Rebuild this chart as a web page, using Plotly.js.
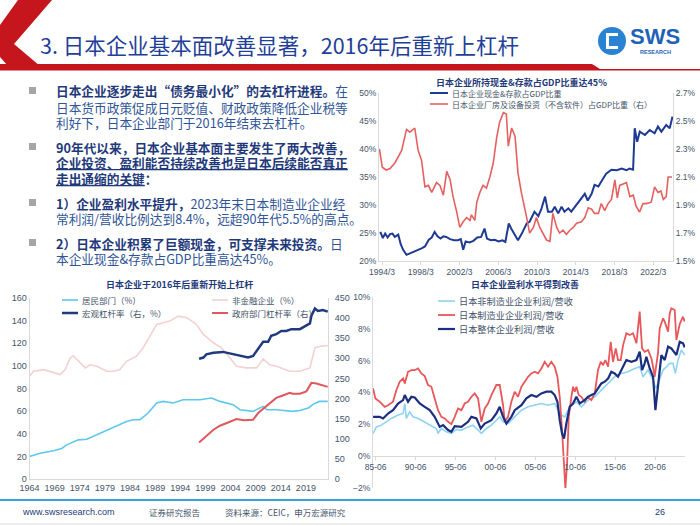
<!DOCTYPE html>
<html>
<head>
<meta charset="utf-8">
<script src="https://cdn.plot.ly/plotly-3.0.1.min.js"></script>
<style>
html, body { margin: 0; padding: 0; background: #fff; }
#plot { width: 700px; height: 526px; }
</style>
</head>
<body>
<div id="plot"></div>
<script>
// ---------- chart 1: cash & deposits / capex as % of GDP ----------
var cashYears = [1994.0,1994.25,1994.5,1994.75,1995.0,1995.25,1995.5,1995.85,1996.1,1996.35,1996.7,1997.0,1997.3,1997.6,1997.9,1998.3,1998.6,1999.0,1999.3,1999.6,1999.9,2000.2,2000.5,2000.8,2001.2,2001.6,2002.0,2002.3,2002.55,2002.8,2003.2,2003.6,2004.0,2004.4,2004.75,2005.0,2005.4,2005.8,2006.2,2006.6,2006.9,2007.25,2007.5,2007.9,2008.2,2008.6,2009.1,2009.4,2009.9,2010.3,2010.6,2011.0,2011.3,2011.7,2012.0,2012.35,2012.7,2013.0,2013.4,2013.7,2014.2,2014.75,2015.1,2015.4,2015.8,2016.1,2016.5,2016.8,2017.3,2017.85,2018.4,2018.9,2019.4,2019.7,2020.08,2020.25,2020.5,2020.77,2021.3,2021.8,2022.3,2022.65,2023.0,2023.5,2023.86,2024.15];
var cashVals = [25.2,24.1,24.9,24.2,24.8,24.9,24.3,24.7,23.0,22.0,21.1,21.3,21.6,21.7,22.0,22.3,22.6,23.8,24.2,25.2,24.4,24.0,24.4,24.3,23.9,23.7,23.7,23.9,22.0,23.5,23.3,23.6,24.2,24.3,25.8,24.0,23.7,23.8,23.5,23.7,23.4,26.7,25.8,24.5,23.7,24.9,26.7,27.0,28.8,28.0,29.2,31.5,28.8,28.8,29.7,28.5,29.7,28.8,29.4,28.8,30.0,31.2,32.0,30.8,32.0,33.6,33.3,34.2,35.6,36.3,36.2,36.5,36.2,36.5,36.3,43.7,41.3,43.1,42.5,43.4,42.8,44.0,43.1,44.3,43.7,45.8];
var capexYears = [1993.9,1994.2,1994.6,1995.0,1995.5,1996.2,1996.7,1997.05,1997.55,1997.9,1998.25,1998.6,1998.95,1999.3,1999.8,2000.15,2000.5,2000.85,2001.2,2001.5,2001.85,2002.2,2002.55,2002.9,2003.25,2003.4,2003.75,2003.95,2004.27,2004.6,2004.95,2005.3,2005.65,2006.0,2006.3,2006.7,2007.0,2007.2,2007.55,2007.9,2008.2,2008.55,2009.1,2009.4,2009.8,2010.1,2010.45,2010.8,2011.15,2011.5,2011.8,2012.2,2012.5,2012.85,2013.2,2013.55,2013.9,2014.25,2014.75,2015.1,2015.45,2015.8,2016.1,2016.5,2016.8,2017.15,2017.5,2017.85,2018.2,2018.45,2018.7,2019.05,2019.4,2019.75,2020.1,2020.4,2020.75,2021.1,2021.45,2021.95,2022.3,2022.65,2022.95,2023.2,2023.5,2023.7,2024.1];
var capexVals = [2.30,2.17,2.15,2.16,2.20,2.29,2.44,2.42,2.45,2.29,2.22,2.03,2.04,1.99,2.06,2.04,1.97,2.14,2.08,1.96,1.86,1.74,1.78,1.81,1.79,1.83,1.79,1.92,1.99,2.04,2.02,2.10,2.20,2.38,2.49,2.56,2.55,2.32,2.45,2.39,2.13,1.99,1.81,1.70,1.74,1.81,1.74,1.70,1.65,1.64,1.84,1.74,1.70,1.72,1.69,1.72,1.74,1.77,1.78,1.81,1.88,1.87,1.84,1.84,1.91,1.86,1.91,1.94,2.08,1.95,2.04,2.05,2.06,1.96,1.97,1.89,1.85,1.91,1.91,1.92,2.03,1.99,2.00,1.94,1.96,2.10,2.10];
var chart1Ticks = [1994.17,1998.17,2002.17,2006.17,2010.17,2014.17,2018.17,2022.17];
var chart1Labels = ['1994/3','1998/3','2002/3','2006/3','2010/3','2014/3','2018/3','2022/3'];
var chart1RightTicks = [1.5,1.7,1.9,2.1,2.3,2.5,2.7];
var chart1RightLabels = ['1.5%','1.7%','1.9%','2.1%','2.3%','2.5%','2.7%'];

// ---------- chart 2: leverage ratios ----------
var hhYears = [1964.0,1966.1,1968.8,1970.4,1971.4,1973.7,1975.4,1977.4,1979.4,1981.4,1983.3,1984.7,1986.0,1987.6,1989.3,1990.6,1992.6,1994.6,1997.9,2000.2,2001.9,2004.5,2005.9,2008.5,2010.5,2011.2,2013.1,2016.4,2017.8,2019.6,2020.4,2021.7,2023.35];
var hhVals = [19.8,22.8,24.9,27,30.2,34.6,35.2,39,43.5,47,50.9,52.4,52.4,58.3,67.2,68.6,67.2,70.1,70.1,71.6,68.6,65.7,61.2,59.8,64.2,61.2,61.2,59.8,60.5,63,66,68.6,68.6];
var nfcYears = [1964.0,1964.8,1966.8,1968.8,1970.1,1971.1,1972.1,1972.7,1974.1,1975.1,1976.1,1977.4,1979.4,1980.7,1982.0,1983.3,1985.3,1986.6,1987.6,1989.3,1990.6,1991.9,1993.6,1995.3,1997.2,1998.6,2000.6,2002.2,2003.9,2005.2,2007.2,2009.2,2010.5,2011.8,2013.1,2015.8,2017.8,2019.8,2020.8,2022.1,2023.35];
var nfcVals = [90.8,95.3,96.7,93.8,92.3,96.7,107,109,102.7,98.2,101,99.7,95.3,95.3,96.7,104,108.6,116,123.4,136.7,138.2,139.6,144,142.6,136.7,127.8,120.4,116,107,99.7,98.2,98.2,106.2,101,99.7,95.3,95.3,98.2,116,117.5,118];
var totYears = [1997.75,1998.6,1999.2,2000.6,2002.5,2003.9,2005.9,2007.5,2008.5,2009.2,2010.5,2011.5,2012.1,2013.1,2014.1,2015.1,2016.1,2017.8,2019.1,2019.8,2020.1,2020.8,2021.4,2022.4,2023.35];
var totVals = [299,302,310,314,316,312,307,302,306,318,341,341,356,360,368,368,372.5,372.5,382.5,386.7,406,424,418,420,416];
var govYears = [1997.75,1999.2,2000.6,2001.9,2003.9,2005.2,2006.6,2008.5,2009.5,2010.5,2011.8,2013.1,2014.4,2015.8,2016.4,2017.8,2019.1,2020.1,2021.1,2022.4,2023.35];
var govVals = [91,107.5,122.5,132.5,143,149,146,147.5,164,174,189,201.7,207.5,214,212,212,218,239,237.5,232.5,229];
var chart2Ticks = [1964,1969,1974,1979,1984,1989,1994,1999,2004,2009,2014,2019];

// ---------- chart 3: ordinary profit / sales ----------
var mfgYears = [1985.11,1985.40,1985.94,1986.57,1986.99,1987.61,1988.03,1988.45,1988.87,1989.08,1989.49,1989.91,1990.33,1990.75,1991.16,1991.58,1992.00,1992.42,1992.83,1993.25,1993.67,1994.09,1994.51,1994.92,1995.34,1995.76,1996.18,1996.59,1997.01,1997.43,1997.85,1998.27,1998.68,1999.10,1999.52,1999.94,2000.56,2000.98,2001.40,2001.61,2002.02,2002.44,2002.86,2003.28,2003.70,2004.11,2004.53,2004.95,2005.37,2005.78,2006.20,2006.62,2007.04,2007.45,2007.87,2008.21,2008.50,2008.79,2009.04,2009.21,2009.42,2009.63,2009.96,2010.17,2010.38,2010.59,2010.88,2011.21,2011.63,2011.97,2012.47,2012.89,2013.30,2013.64,2013.93,2014.22,2014.56,2014.89,2015.18,2015.52,2015.81,2016.14,2016.44,2016.85,2017.27,2017.69,2018.11,2018.52,2018.82,2019.15,2019.57,2019.99,2020.20,2020.40,2020.82,2021.03,2021.45,2021.66,2022.08,2022.28,2022.49,2022.91,2023.12,2023.54,2023.95,2024.16];
var mfgVals = [4.26,3.63,3.42,3.10,3.20,3.42,4.15,4.68,4.88,4.57,5.30,5.40,5.40,5.51,5.20,5.03,4.47,4.36,3.63,2.89,2.47,2.37,2.16,2.01,2.47,3.00,2.89,3.31,3.42,3.73,3.94,3.63,2.16,3.00,3.31,3.84,4.47,4.47,3.20,2.16,2.47,3.42,4.05,3.73,4.36,4.68,4.99,5.20,5.30,5.20,5.51,5.93,5.62,5.93,5.62,4.99,3.73,1.64,-0.46,-2.03,-0.46,2.47,3.73,4.36,4.05,4.36,3.84,3.73,3.42,3.73,3.52,3.94,5.41,5.93,5.72,6.04,5.62,7.19,5.93,6.77,6.04,6.04,6.98,7.72,7.61,7.72,7.09,9.08,6.77,6.56,6.67,6.14,5.60,4.99,6.50,8.03,8.66,8.45,7.82,8.97,9.29,9.18,7.30,8.30,8.76,8.45];
var allYears = [1985.11,1985.94,1986.36,1986.99,1987.61,1988.24,1988.87,1989.08,1989.49,1989.91,1990.33,1990.96,1991.58,1992.21,1992.83,1993.46,1993.88,1994.51,1994.92,1995.34,1996.18,1997.01,1997.43,1998.06,1998.60,1999.10,1999.94,2000.56,2000.98,2001.40,2001.82,2002.44,2002.86,2003.70,2004.32,2004.95,2005.58,2006.20,2006.83,2007.45,2007.87,2008.21,2008.50,2008.79,2009.04,2009.33,2009.75,2010.17,2010.59,2011.01,2011.63,2012.05,2012.47,2012.89,2013.30,2013.72,2014.14,2014.56,2014.97,2015.39,2015.81,2016.44,2016.85,2017.48,2018.11,2018.52,2018.82,2019.15,2019.36,2019.78,2020.20,2020.49,2020.82,2021.24,2021.66,2022.08,2022.49,2022.83,2023.12,2023.54,2023.95,2024.16];
var allVals = [2.47,2.47,2.37,2.68,2.89,3.31,3.52,3.84,3.42,3.73,3.69,3.31,3.10,2.89,2.47,1.84,1.95,1.64,1.53,1.89,1.84,2.16,2.47,2.37,1.74,2.05,2.26,2.68,3.10,2.47,2.05,2.47,2.89,3.20,3.63,3.84,3.73,3.94,4.05,4.05,3.84,3.42,2.26,1.43,1.11,2.05,3.10,3.31,3.73,3.31,3.52,3.73,3.84,3.94,4.26,4.57,4.68,4.88,5.30,5.20,4.99,5.62,6.04,5.93,6.04,6.56,5.41,5.83,6.25,5.51,4.99,2.89,4.57,6.35,6.04,6.88,6.77,6.56,6.35,7.19,7.09,6.83];
var nonMfgYears = [1985.11,1985.53,1986.15,1986.78,1987.40,1988.24,1988.87,1989.08,1989.28,1989.70,1990.12,1990.75,1991.58,1992.42,1993.04,1993.25,1993.67,1994.30,1994.92,1995.55,1996.18,1997.01,1997.64,1998.27,1998.68,1999.31,1999.94,2000.56,2000.98,2001.40,2002.02,2002.86,2003.70,2004.53,2005.37,2006.20,2007.04,2007.87,2008.29,2008.71,2009.13,2009.54,2009.96,2010.59,2011.21,2012.05,2012.89,2013.72,2014.56,2015.39,2016.23,2017.06,2017.90,2018.52,2018.94,2019.57,2020.20,2020.53,2020.82,2021.45,2021.87,2022.28,2022.70,2022.99,2023.33,2023.74,2024.16];
var nonMfgVals = [1.43,1.84,1.95,2.16,2.37,2.58,2.68,3.31,2.37,2.79,2.47,2.37,2.16,1.95,1.74,1.43,1.74,1.53,1.43,1.68,1.64,1.84,1.95,1.64,1.43,1.74,1.95,2.26,2.47,2.16,2.05,2.47,2.89,3.10,3.20,3.31,3.20,3.31,2.89,2.58,2.47,2.89,3.20,3.42,3.10,3.52,3.73,4.15,4.57,4.99,5.20,5.30,5.51,5.62,4.99,5.41,4.78,4.26,4.57,5.41,5.62,5.83,5.83,5.20,6.04,6.67,6.35];
var chart3Ticks = [1985.44,1990.44,1995.44,2000.44,2005.44,2010.44,2015.44,2020.44];
var chart3Labels = ['85-06','90-06','95-06','00-06','05-06','10-06','15-06','20-06'];

// ---------- helpers ----------
var W = 700, H = 526;
function fx(x) { return x / W; }
function fy(y) { return 1 - y / H; }
var CJK = 'Noto Sans CJK SC, sans-serif';
var TICK = { family: 'Liberation Sans, Arial, sans-serif', size: 8.5, color: '#44546A' };
var AX = '#D9D9D9';

var traces = [
  { x: capexYears, y: capexVals, xaxis: 'x', yaxis: 'y2', mode: 'lines', line: { color: '#E5615F', width: 1.6 } },
  { x: cashYears, y: cashVals, xaxis: 'x', yaxis: 'y', mode: 'lines', line: { color: '#1F3A93', width: 2 } },

  { x: nfcYears, y: nfcVals, xaxis: 'x2', yaxis: 'y3', mode: 'lines', line: { color: '#F3D1D1', width: 1.6 } },
  { x: hhYears, y: hhVals, xaxis: 'x2', yaxis: 'y3', mode: 'lines', line: { color: '#5CC8EC', width: 1.6 } },
  { x: govYears, y: govVals, xaxis: 'x2', yaxis: 'y4', mode: 'lines', line: { color: '#E0585D', width: 2 } },
  { x: totYears, y: totVals, xaxis: 'x2', yaxis: 'y4', mode: 'lines', line: { color: '#1F3A7F', width: 2.5 } },

  { x: nonMfgYears, y: nonMfgVals, xaxis: 'x3', yaxis: 'y5', mode: 'lines', line: { color: '#8ED3F2', width: 1.6 } },
  { x: mfgYears, y: mfgVals, xaxis: 'x3', yaxis: 'y5', mode: 'lines', line: { color: '#E8575A', width: 1.8 } },
  { x: allYears, y: allVals, xaxis: 'x3', yaxis: 'y5', mode: 'lines', line: { color: '#1C2F7E', width: 2.2 } }
];

var shapes = [];
var annotations = [];

function line(x0, y0, x1, y1, color, width) {
  shapes.push({ type: 'line', xref: 'paper', yref: 'paper', x0: fx(x0), y0: fy(y0), x1: fx(x1), y1: fy(y1), line: { color: color, width: width } });
}
function poly(pts, color) {
  var d = pts.map(function (p, i) { return (i ? 'L' : 'M') + fx(p[0]).toFixed(5) + ',' + fy(p[1]).toFixed(5); }).join(' ') + ' Z';
  shapes.push({ type: 'path', xref: 'paper', yref: 'paper', path: d, fillcolor: color, line: { width: 0 } });
}
function text(x, y, t, size, color, anchor, family) {
  annotations.push({ xref: 'paper', yref: 'paper', x: fx(x), y: fy(y), text: t, showarrow: false,
    xanchor: anchor || 'left', yanchor: 'middle', font: { family: family || CJK, size: size, color: color } });
}
function legendItem(x0, x1, y, color, width, label, size) {
  line(x0, y, x1, y, color, width);
  text(x1 + 2, y, label, size || 8.5, '#44546A');
}

// ---------- header ----------
poly([[18, 0], [52, 0], [14, 44], [40, 66], [8, 66], [0, 57], [0, 25]], '#C4161C');
poly([[0, 64], [592, 64], [600, 69], [700, 69], [700, 70.5], [0, 70.5]], '#C4161C');
text(38, 44, '3. 日本企业基本面改善显著，2016年后重新上杠杆', 21.5, '#1F3F99');
// logo
shapes.push({ type: 'circle', xref: 'paper', yref: 'paper', x0: fx(598), y0: fy(27), x1: fx(626), y1: fy(55), fillcolor: '#2A83D2', line: { width: 0 } });
poly([[606, 33], [618, 33], [618, 49], [606, 49]], '#FFFFFF');
poly([[609, 36], [620, 36], [620, 46], [609, 46]], '#2A83D2');
text(655, 37, '<b>SWS</b>', 22, '#1F62B8', 'center', 'Liberation Sans, Arial, sans-serif');
text(655, 52, '<b>RESEARCH</b>', 5.5, '#1F62B8', 'center', 'Liberation Sans, Arial, sans-serif');

// ---------- left text block ----------
var B = '#1F3A7A', R = '#2F5597';
var lines = [
  [91, '<b>日本企业逐步走出“债务最小化”的去杠杆进程。</b><span style="color:' + R + '">在</span>'],
  [107, '<span style="color:' + R + '">日本货币政策促成日元贬值、财政政策降低企业税等</span>'],
  [123, '<span style="color:' + R + '">利好下，日本企业部门于2016年结束去杠杆。</span>'],
  [147, '<b>90年代以来，日本企业基本面主要发生了两大改善，</b>'],
  [163, '<b><span style="text-decoration:underline">企业投资、盈利能否持续改善也是日本后续能否真正</span></b>'],
  [179, '<b><span style="text-decoration:underline">走出通缩的关键</span>：</b>'],
  [203, '<b>1）企业盈利水平提升，</b><span style="color:' + R + '">2023年末日本制造业企业经</span>'],
  [219, '<span style="color:' + R + '">常利润/营收比例达到8.4%，远超90年代5.5%的高点。</span>'],
  [243, '<b>2）日本企业积累了巨额现金，可支撑未来投资。</b><span style="color:' + R + '">日</span>'],
  [259, '<span style="color:' + R + '">本企业现金&amp;存款占GDP比重高达45%。</span>']
];
lines.forEach(function (l) { text(54, l[0], l[1], 12.7, B); });
[91, 147, 203, 243].forEach(function (y) { poly([[29, y - 4], [36, y - 4], [36, y + 3], [29, y + 3]], '#A6A6A6'); });

// ---------- chart titles & legends ----------
text(521, 82, '<b>日本企业所持现金&amp;存款占GDP比重达45%</b>', 9, '#1F3A7A', 'center');
legendItem(430, 448, 93, '#1F3A93', 2, '日本企业现金&amp;存款占GDP比重', 8);
legendItem(430, 448, 104, '#E5615F', 1.6, '日本企业厂房及设备投资（不含软件）占GDP比重（右）', 8);

text(180, 284, '<b>日本企业于2016年后重新开始上杠杆</b>', 9, '#1F3A7A', 'center');
legendItem(62, 78, 300, '#5CC8EC', 1.6, '居民部门（%）');
legendItem(62, 78, 313, '#1F3A7F', 2.5, '宏观杠杆率（右，%）');
legendItem(212, 228, 300, '#F3D1D1', 1.6, '非金融企业（%）');
legendItem(212, 228, 313, '#E0585D', 2, '政府部门杠杆率（右）');

text(525, 284, '<b>日本企业盈利水平得到改善</b>', 9, '#1F3A7A', 'center');
legendItem(438, 455, 301, '#8ED3F2', 1.6, '日本非制造业企业利润/营收', 9.2);
legendItem(438, 455, 315, '#E8575A', 1.8, '日本制造业企业利润/营收', 9.2);
legendItem(438, 455, 329, '#1C2F7E', 2.2, '日本整体企业利润/营收', 9.2);

// ---------- footer ----------
line(0, 500, 700, 500, '#3AA0D8', 2);
line(0, 524, 700, 524, '#D9D9D9', 1);
text(20, 512, 'www.swsresearch.com', 9, '#1F3A7A', 'left', 'Liberation Sans, Arial, sans-serif');
text(147, 512, '证券研究报告', 8.5, '#44546A');
text(223, 512, '资料来源：CEIC，申万宏源研究', 8.5, '#44546A');
text(660, 512, '26', 9, '#1F3A7A', 'center', 'Liberation Sans, Arial, sans-serif');

function axisBase(extra) {
  var a = { showgrid: false, zeroline: false, showline: true, linecolor: AX, linewidth: 1, tickfont: TICK, ticks: '', fixedrange: true };
  for (var k in extra) a[k] = extra[k];
  return a;
}

var layout = {
  width: W, height: H, autosize: false,
  margin: { l: 0, r: 0, t: 0, b: 0 },
  paper_bgcolor: '#FFFFFF', plot_bgcolor: 'rgba(0,0,0,0)',
  showlegend: false, hovermode: false,
  font: { family: 'Liberation Sans, Arial, sans-serif' },
  xaxis: axisBase({ domain: [fx(379), fx(673)], anchor: 'y', range: [1993.86, 2024.2], tickvals: chart1Ticks, ticktext: chart1Labels, ticks: 'outside', ticklen: 3, tickcolor: AX }),
  yaxis: axisBase({ domain: [fy(261), fy(93)], anchor: 'x', range: [20, 50], dtick: 5, ticksuffix: '%' }),
  yaxis2: axisBase({ overlaying: 'y', anchor: 'x', side: 'right', range: [1.5, 2.7], tickmode: 'array', tickvals: chart1RightTicks, ticktext: chart1RightLabels }),

  xaxis2: axisBase({ domain: [fx(29.5), fx(328)], anchor: 'y3', range: [1964, 2023.4], tickvals: chart2Ticks, tickformat: 'd', tickfont: { family: TICK.family, size: 9, color: TICK.color } }),
  yaxis3: axisBase({ domain: [fy(479), fy(298)], anchor: 'x2', range: [0, 160], dtick: 20, tickfont: { family: TICK.family, size: 9, color: TICK.color } }),
  yaxis4: axisBase({ overlaying: 'y3', anchor: 'x2', side: 'right', range: [0, 450], dtick: 50, tickfont: { family: TICK.family, size: 9, color: TICK.color }, ticklabelstandoff: 4 }),

  xaxis3: axisBase({ domain: [fx(373), fx(685)], anchor: 'free', position: fy(456), range: [1985.1, 2024.2], tickvals: chart3Ticks, ticktext: chart3Labels, ticks: 'outside', ticklen: 3, tickcolor: AX }),
  yaxis5: axisBase({ domain: [fy(488), fy(297)], anchor: 'x3', range: [-2, 10], dtick: 2, ticksuffix: '%' }),

  shapes: shapes,
  annotations: annotations
};

Plotly.newPlot('plot', traces, layout, { staticPlot: true, displayModeBar: false });
</script>
</body>
</html>
